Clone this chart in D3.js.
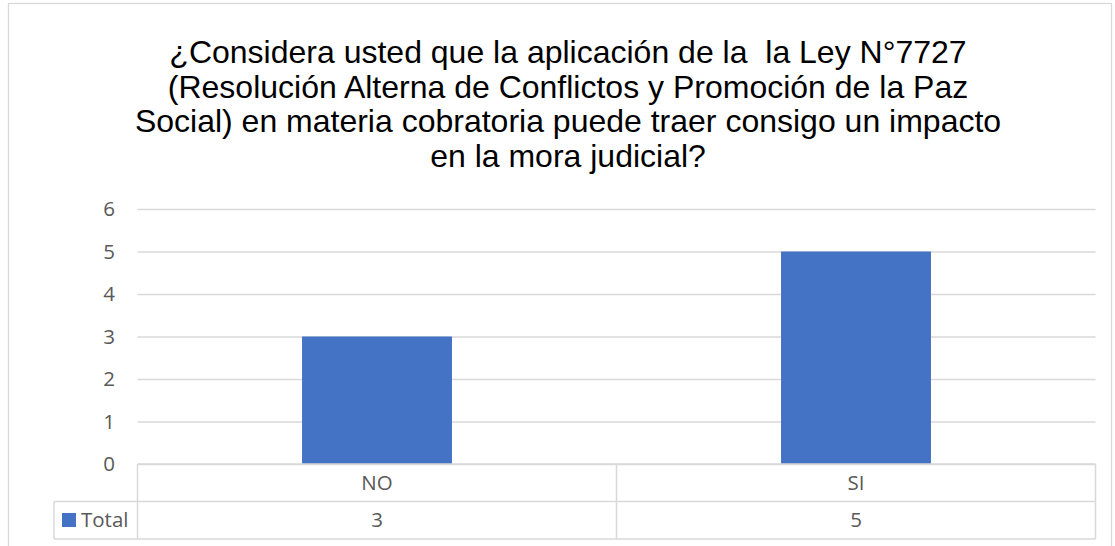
<!DOCTYPE html>
<html>
<head>
<meta charset="utf-8">
<script src="https://cdn.jsdelivr.net/npm/d3@7"></script>
<style>
  body { margin: 0; background: #fff; }
  svg { display: block; }
</style>
</head>
<body>
<script>
// data
var titleLines = [
  "¿Considera usted que la aplicación de la  la Ley N°7727",
  "(Resolución Alterna de Conflictos y Promoción de la Paz",
  "Social) en materia cobratoria puede traer consigo un impacto",
  "en la mora judicial?"
];
var categories = ["NO", "SI"];
var values = [3, 5];
var seriesName = "Total";
var yTicks = [0, 1, 2, 3, 4, 5, 6];

var w = 1115, h = 546;
var plotLeft = 137.5, plotRight = 1095.5, plotTop = 209, plotBottom = 464;
var rowH = 37.5;
var gray = "#595959", lineCol = "#d9d9d9", barCol = "#4472c4";
var axisFont = "'Open Sans', sans-serif";

var svg = d3.select("body").append("svg")
  .attr("width", w)
  .attr("height", h);

// chart area border
svg.append("rect")
  .attr("x", 8.5).attr("y", 3.5)
  .attr("width", 1103).attr("height", 600)
  .attr("fill", "#fff")
  .attr("stroke", lineCol)
  .attr("stroke-width", 1.3);

// title
svg.append("text")
  .attr("text-anchor", "middle")
  .style("font-family", "'Liberation Sans', Arial, sans-serif")
  .style("font-size", "32px")
  .style("white-space", "pre")
  .attr("fill", "#000")
  .selectAll("tspan")
  .data(titleLines)
  .enter()
  .append("tspan")
  .attr("x", 568)
  .attr("y", function(d, i){ return 63 + i*34.6; })
  .text(function(d){ return d; });

var x = d3.scaleBand().domain(categories).range([plotLeft, plotRight]).padding(0);
var y = d3.scaleLinear().domain([0, 6]).range([plotBottom, plotTop]);
var barW = x.bandwidth()*0.313;

// gridlines
svg.append("g")
  .attr("transform", "translate(" + plotLeft + ",0)")
  .call(d3.axisLeft(y).tickValues(yTicks).tickSize(-(plotRight - plotLeft)).tickFormat(""))
  .call(function(g){
    g.select(".domain").remove();
    g.selectAll("line").attr("stroke", lineCol).attr("stroke-width", 1.3);
  });

// y tick labels
svg.append("g")
  .attr("transform", "translate(115,0)")
  .call(d3.axisLeft(y).tickValues(yTicks).tickFormat(d3.format("d")).tickSize(0).tickPadding(0))
  .call(function(g){
    g.select(".domain").remove();
    g.selectAll("text")
      .attr("fill", gray)
      .style("font-family", axisFont)
      .style("font-size", "20.5px");
  });

// bars
svg.selectAll("rect.bar")
  .data(values)
  .enter()
  .append("rect")
  .attr("class", "bar")
  .attr("x", function(d, i){ return x(categories[i]) + (x.bandwidth() - barW)/2; })
  .attr("y", function(d){ return y(d); })
  .attr("width", barW)
  .attr("height", function(d){ return plotBottom - y(d); })
  .attr("fill", barCol);

// data table
var table = svg.append("g")
  .attr("fill", "none")
  .attr("stroke", lineCol)
  .attr("stroke-width", 1.5);

table.append("path")
  .attr("d",
    "M" + plotLeft + "," + plotBottom + " H" + plotRight +
    " M54," + (plotBottom + rowH) + " H" + plotRight +
    " M54," + (plotBottom + 2*rowH) + " H" + plotRight +
    " M54," + (plotBottom + rowH) + " V" + (plotBottom + 2*rowH) +
    " M" + plotLeft + "," + plotBottom + " V" + (plotBottom + 2*rowH));

table.selectAll("line.sep")
  .data(categories)
  .enter()
  .append("line")
  .attr("class", "sep")
  .attr("x1", function(d){ return x(d) + x.bandwidth(); })
  .attr("x2", function(d){ return x(d) + x.bandwidth(); })
  .attr("y1", plotBottom)
  .attr("y2", plotBottom + 2*rowH);

var cellText = svg.append("g")
  .attr("text-anchor", "middle")
  .attr("fill", gray)
  .style("font-family", axisFont)
  .style("font-size", "20.5px");

cellText.selectAll("text.cat")
  .data(categories)
  .enter()
  .append("text")
  .attr("class", "cat")
  .attr("x", function(d){ return x(d) + x.bandwidth()/2; })
  .attr("y", plotBottom + rowH/2)
  .attr("dy", "0.35em")
  .text(function(d){ return d; });

cellText.selectAll("text.val")
  .data(values)
  .enter()
  .append("text")
  .attr("class", "val")
  .attr("x", function(d, i){ return x(categories[i]) + x.bandwidth()/2; })
  .attr("y", plotBottom + rowH*1.5)
  .attr("dy", "0.35em")
  .text(function(d){ return d; });

// legend key in table
svg.append("rect")
  .attr("x", 62).attr("y", 513)
  .attr("width", 14).attr("height", 14)
  .attr("fill", barCol);

svg.append("text")
  .attr("x", 81)
  .attr("y", plotBottom + rowH*1.5)
  .attr("dy", "0.35em")
  .attr("fill", gray)
  .style("font-family", axisFont)
  .style("font-size", "20.5px")
  .text(seriesName);
</script>
</body>
</html>
